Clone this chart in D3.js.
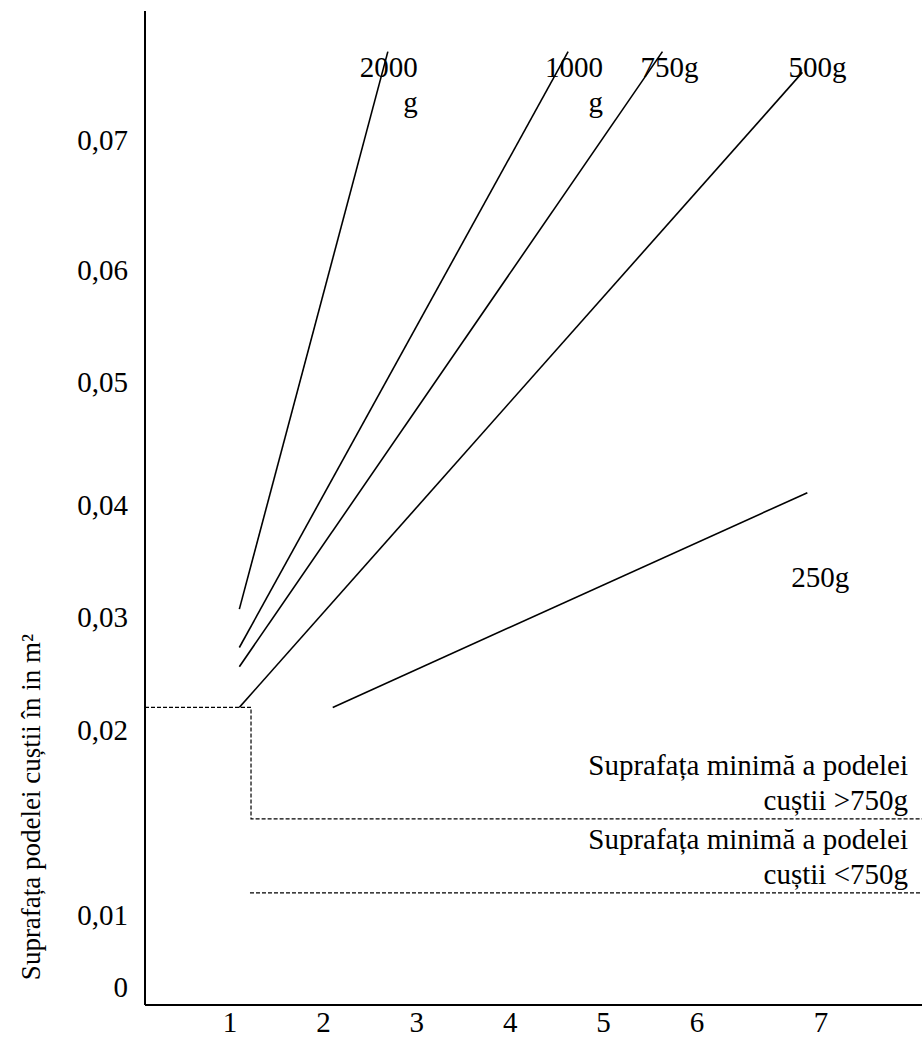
<!DOCTYPE html>
<html>
<head>
<meta charset="utf-8">
<script src="https://cdn.jsdelivr.net/npm/d3@7"></script>
<style>
  body { margin: 0; background: #fff; }
  text { font-family: "Liberation Serif", "Times New Roman", serif; fill: #000; }
</style>
</head>
<body>
<div id="chart"></div>
<script>
// values
var xTicks = [1, 2, 3, 4, 5, 6, 7];
var yTicks = [0, 0.01, 0.02, 0.03, 0.04, 0.05, 0.06, 0.07];
var yTickLabels = ["0", "0,01", "0,02", "0,03", "0,04", "0,05", "0,06", "0,07"];

var weightLabels = [["2000", "g"], ["1000", "g"], ["750g"], ["500g"], ["250g"]];
var startX = [1.1, 1.1, 1.1, 1.1, 2.1];
var startY = [0.0307, 0.0273, 0.0256, 0.022, 0.022];
var endX = [2.69, 4.62, 5.63, 6.85, 6.89];
var endY = [0.0768, 0.0768, 0.0768, 0.0752, 0.041];

// minimum floor area thresholds (dashed)
var boxX = 1.225, boxY = 0.022;
var minAreaStartX = [1.225, 1.214];
var minAreaY = [0.0152, 0.0112];
var minAreaText = [["Suprafața minimă a podelei", "cuștii >750g"],
                   ["Suprafața minimă a podelei", "cuștii <750g"]];

var yTitle = "Suprafața podelei cuștii în in m²";

var width = 922, height = 1039;
var axisX = 145, axisY = 1005, axisTop = 11;
var fontSize = 29;

// the original is hand drawn, tick spacing is uneven
var x = d3.scaleLinear()
    .domain([1, 6, 7])
    .range([230, 697, 821]);
var y = d3.scaleLinear()
    .domain(yTicks)
    .range([987, 915, 730, 617, 505, 382, 270, 140]);
var xMax = x.invert(width);

var svg = d3.select("#chart")
    .append("svg")
    .attr("width", width)
    .attr("height", height);

svg.append("rect").attr("width", width).attr("height", height).attr("fill", "#fff");

// axes
svg.append("line")
    .attr("x1", axisX).attr("x2", axisX)
    .attr("y1", axisTop).attr("y2", axisY)
    .attr("stroke", "#000").attr("stroke-width", 2);
svg.append("line")
    .attr("x1", axisX).attr("x2", width)
    .attr("y1", axisY).attr("y2", axisY)
    .attr("stroke", "#000").attr("stroke-width", 2);

svg.append("g")
    .selectAll("text")
    .data(xTicks)
    .enter()
    .append("text")
    .attr("x", function (d) { return x(d); })
    .attr("y", 1032)
    .attr("text-anchor", "middle")
    .style("font-size", fontSize + "px")
    .text(function (d) { return d; });

svg.append("g")
    .selectAll("text")
    .data(yTicks)
    .enter()
    .append("text")
    .attr("x", 128)
    .attr("y", function (d) { return y(d); })
    .attr("dy", "0.34em")
    .attr("text-anchor", "end")
    .style("font-size", fontSize + "px")
    .text(function (d, i) { return yTickLabels[i]; });

svg.append("text")
    .attr("transform", "translate(40,807) rotate(-90)")
    .attr("text-anchor", "middle")
    .style("font-size", "27px")
    .text(yTitle);

// dashed threshold lines
var dashed = d3.line()
    .x(function (d) { return x(d[0]); })
    .y(function (d) { return y(d[1]); });

svg.append("path")
    .attr("d", dashed([[x.invert(axisX), boxY], [boxX, boxY], [boxX, minAreaY[0]], [xMax, minAreaY[0]]]))
    .attr("fill", "none").attr("stroke", "#000")
    .attr("stroke-width", 1.2).attr("stroke-dasharray", "4,2");
svg.append("path")
    .attr("d", dashed([[minAreaStartX[1], minAreaY[1]], [xMax, minAreaY[1]]]))
    .attr("fill", "none").attr("stroke", "#000")
    .attr("stroke-width", 1.2).attr("stroke-dasharray", "4,2");

minAreaText.forEach(function (lines, i) {
    var t = svg.append("text")
        .attr("text-anchor", "end")
        .style("font-size", fontSize + "px");
    t.append("tspan").attr("x", 908).attr("y", y(minAreaY[i]) - 44).text(lines[0]);
    t.append("tspan").attr("x", 908).attr("y", y(minAreaY[i]) - 9).text(lines[1]);
});

// weight lines
svg.append("g")
    .selectAll("line")
    .data(weightLabels)
    .enter()
    .append("line")
    .attr("x1", function (d, i) { return x(startX[i]); })
    .attr("y1", function (d, i) { return y(startY[i]); })
    .attr("x2", function (d, i) { return x(endX[i]); })
    .attr("y2", function (d, i) { return y(endY[i]); })
    .attr("stroke", "#000")
    .attr("stroke-width", 1.6);

var labelPos = [
    { dx: 30, y: 77, anchor: "end" },
    { dx: 35, y: 77, anchor: "end" },
    { dx: 7, y: 77, anchor: "middle" },
    { dx: 15, y: 77, anchor: "middle" },
    { dx: 13, dy: 94, anchor: "middle" }
];

weightLabels.forEach(function (lines, i) {
    var p = labelPos[i];
    var lx = x(endX[i]) + p.dx;
    var ly = p.y !== undefined ? p.y : y(endY[i]) + p.dy;
    var t = svg.append("text")
        .attr("text-anchor", p.anchor)
        .style("font-size", fontSize + "px");
    lines.forEach(function (s, k) {
        t.append("tspan").attr("x", lx).attr("y", ly + k * 35).text(s);
    });
});
</script>
</body>
</html>
